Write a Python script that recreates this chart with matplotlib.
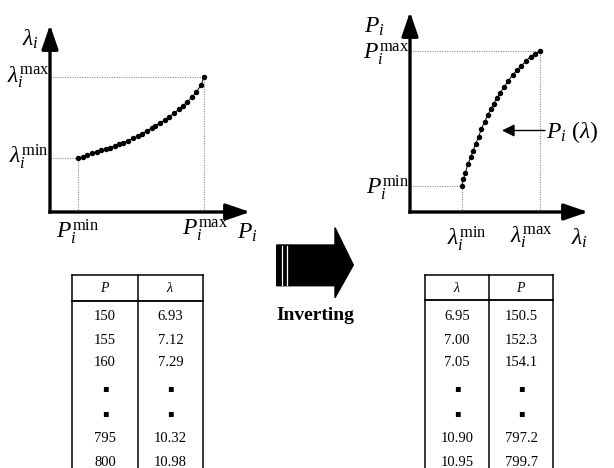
import matplotlib
matplotlib.use("Agg")
import matplotlib.pyplot as plt
from matplotlib.patches import Polygon, FancyArrowPatch

plt.rcParams['font.family'] = ['Liberation Serif', 'DejaVu Sans']
plt.rcParams['mathtext.fontset'] = 'custom'
plt.rcParams['mathtext.rm'] = 'Liberation Serif'
plt.rcParams['mathtext.it'] = 'Liberation Serif:italic'
plt.rcParams['mathtext.bf'] = 'Liberation Serif:bold'

# ---- data: left curve lambda(P) ----
P_left = [150, 175, 200, 225, 250, 270, 295, 315, 340, 365, 385, 410, 435, 460, 480,
          505, 530, 550, 575, 600, 620, 645, 670, 690, 715, 740, 760, 785, 800]
lam_left = [6.93, 7.01, 7.09, 7.18, 7.26, 7.34, 7.39, 7.46, 7.54, 7.62, 7.71, 7.80, 7.92, 8.04, 8.14,
            8.30, 8.42, 8.55, 8.70, 8.83, 9.00, 9.16, 9.36, 9.53, 9.74, 9.99, 10.22, 10.57, 10.98]

# ---- data: right curve P(lambda) ----
lam_right = [6.95, 7.03, 7.14, 7.27, 7.41, 7.53, 7.66, 7.82, 7.95, 8.12, 8.28, 8.43, 8.58, 8.75,
             8.92, 9.13, 9.33, 9.55, 9.78, 10.00, 10.24, 10.47, 10.71, 10.95]
P_right = [150.5, 181.3, 213.3, 255.0, 287.0, 319.3, 351.5, 386.8, 423.8, 459.0, 489.7, 518.6,
           545.8, 573.2, 598.9, 627.8, 656.7, 684.0, 708.1, 729.0, 753.0, 772.4, 786.9, 799.7]

# ---- tables ----
tab_left_header = ['$P$', r'$\lambda$']
tab_left_P = ['150', '155', '160', '▪', '▪', '795', '800']
tab_left_lam = ['6.93', '7.12', '7.29', '▪', '▪', '10.32', '10.98']
tab_right_header = [r'$\lambda$', '$P$']
tab_right_lam = ['6.95', '7.00', '7.05', '▪', '▪', '10.90', '10.95']
tab_right_P = ['150.5', '152.3', '154.1', '▪', '▪', '797.2', '799.7']

W, H = 614, 468
fig = plt.figure(figsize=(W / 100, H / 100), dpi=100)

ov = fig.add_axes([0, 0, 1, 1])
ov.set_xlim(0, W)
ov.set_ylim(H, 0)
ov.axis('off')


def px_axes(left, top, right, bottom):
    return fig.add_axes([left / W, 1 - bottom / H, (right - left) / W, (bottom - top) / H])


def draw_axes_arrows(ax):
    for s in ax.spines.values():
        s.set_visible(False)
    ax.set_xticks([])
    ax.set_yticks([])
    ax.patch.set_alpha(0)
    kw = dict(arrowstyle='-|>,head_length=1.45,head_width=0.5', lw=2.4, color='black',
              mutation_scale=10, shrinkA=0, shrinkB=0, capstyle='projecting')
    ax.annotate('', xy=(1, 0), xytext=(0, 0), xycoords='axes fraction',
                arrowprops=kw, annotation_clip=False)
    ax.annotate('', xy=(0, 1), xytext=(0, 0), xycoords='axes fraction',
                arrowprops=kw, annotation_clip=False)


guide = dict(color='0.55', lw=0.8, ls=(0, (1, 1.2)))
TS = 17

# ---- left chart ----
axL = px_axes(50, 25, 250, 212)
axL.set_xlim(7.4, 1036.8)
axL.set_ylim(4.265, 13.55)
draw_axes_arrows(axL)
x0, y0 = axL.get_xlim()[0], axL.get_ylim()[0]
axL.plot([x0, P_left[-1]], [lam_left[-1]] * 2, **guide)
axL.plot([P_left[-1]] * 2, [y0, lam_left[-1]], **guide)
axL.plot([x0, P_left[0]], [lam_left[0]] * 2, **guide)
axL.plot([P_left[0]] * 2, [y0, lam_left[0]], **guide)
axL.plot(P_left, lam_left, '-o', color='black', lw=0.7, ms=2.9)

ov.text(30, 39, r'$\lambda_i$', fontsize=TS, ha='center', va='center')
ov.text(50, 77, r'$\lambda_i^{\mathrm{max}}$', fontsize=TS, ha='right', va='center')
ov.text(49, 157, r'$\lambda_i^{\mathrm{min}}$', fontsize=TS, ha='right', va='center')
ov.text(78, 217, r'$P_i^{\mathrm{min}}$', fontsize=TS, ha='center', va='top')
ov.text(205, 217, r'$P_i^{\mathrm{max}}$', fontsize=TS, ha='center', va='top')
ov.text(247, 233, r'$P_i$', fontsize=TS, ha='center', va='center')

# ---- right chart ----
axR = px_axes(410, 12, 588, 212)
axR.set_xlim(4.309, 13.40)
axR.set_ylim(23.7, 987.7)
draw_axes_arrows(axR)
x0, y0 = axR.get_xlim()[0], axR.get_ylim()[0]
axR.plot([x0, lam_right[-1]], [P_right[-1]] * 2, **guide)
axR.plot([lam_right[-1]] * 2, [y0, P_right[-1]], **guide)
axR.plot([x0, lam_right[0]], [P_right[0]] * 2, **guide)
axR.plot([lam_right[0]] * 2, [y0, P_right[0]], **guide)
axR.plot(lam_right, P_right, '-o', color='black', lw=0.7, ms=2.9)

ov.text(374, 27, r'$P_i$', fontsize=TS, ha='center', va='center')
ov.text(409, 54, r'$P_i^{\mathrm{max}}$', fontsize=TS, ha='right', va='center')
ov.text(409, 188, r'$P_i^{\mathrm{min}}$', fontsize=TS, ha='right', va='center')
ov.text(467, 224, r'$\lambda_i^{\mathrm{min}}$', fontsize=TS, ha='center', va='top')
ov.text(531, 224, r'$\lambda_i^{\mathrm{max}}$', fontsize=TS, ha='center', va='top')
ov.text(579, 238, r'$\lambda_i$', fontsize=TS, ha='center', va='center')
ov.add_patch(FancyArrowPatch((545, 130.5), (502, 130.5), arrowstyle='-|>,head_length=5,head_width=2.5',
                             lw=1.0, color='black', mutation_scale=1.5, shrinkA=0, shrinkB=0))
ov.text(572, 132, r'$P_i\ (\lambda)$', fontsize=TS, ha='center', va='center')

# ---- block arrow ----
ov.add_patch(Polygon([(276.7, 245), (335, 245), (335, 227.7), (353.3, 265), (335, 297.7),
                      (335, 285.7), (276.7, 285.7)], closed=True, color='black'))
for xs in (281.5, 287.0):
    ov.plot([xs, xs], [245.5, 285.2], color='white', lw=0.9)
ov.text(315, 316, 'Inverting', fontsize=14, fontweight='bold', ha='center', va='center')


# ---- tables ----
def draw_table(xl, xm, xr, ytop, yhead, header, col1, col2):
    lw = 1.1
    ov.plot([xl, xr], [ytop, ytop], color='black', lw=lw)
    ov.plot([xl, xr], [yhead, yhead], color='black', lw=lw * 1.2)
    for x in (xl, xm, xr):
        ov.plot([x, x], [ytop, H + 2], color='black', lw=lw)
    centers = [(xl + xm) / 2, (xm + xr) / 2]
    hy = (ytop + yhead) / 2
    for c, h in zip(centers, header):
        ov.text(c, hy, h, fontsize=10, ha='center', va='center')
    rows_y = [316.5, 340, 363, 388, 413, 438, 462]
    for c, col in zip(centers, (col1, col2)):
        for y, v in zip(rows_y, col):
            if v == '▪':
                ov.text(c, y, v, fontsize=7, ha='center', va='center', family='DejaVu Sans')
            else:
                ov.text(c, y, v, fontsize=10.5, ha='center', va='center')


draw_table(72, 138, 203, 275, 301, tab_left_header, tab_left_P, tab_left_lam)
draw_table(425, 489, 553, 275, 300, tab_right_header, tab_right_lam, tab_right_P)

fig.savefig('out.png', dpi=100)
